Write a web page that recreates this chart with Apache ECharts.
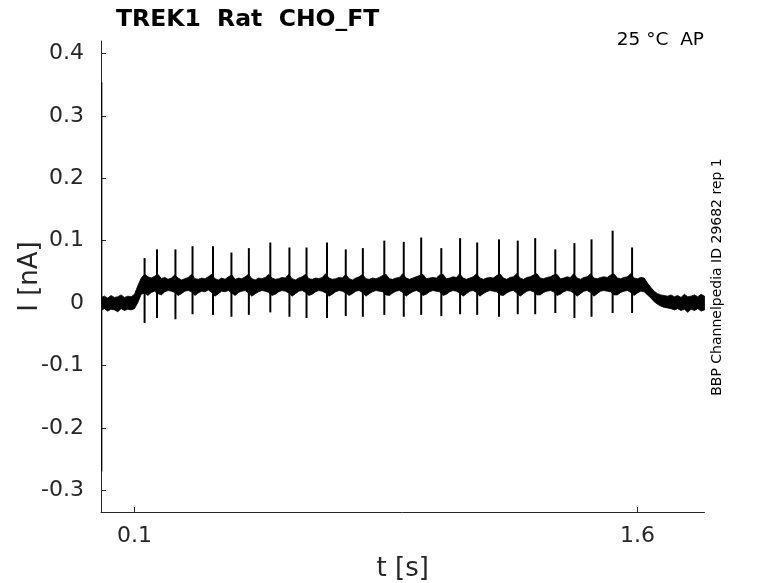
<!DOCTYPE html>
<html>
<head>
<meta charset="utf-8">
<script src="https://cdn.jsdelivr.net/npm/echarts@6/dist/echarts.min.js"></script>
<style>
html,body{margin:0;padding:0;background:#fff;}
#chart{width:778px;height:583px;}
</style>
</head>
<body>
<div id="chart"></div>
<script>
// ---- data ----
const titleText = 'TREK1  Rat  CHO_FT';
const tempText = '25 °C  AP';
const sideText = 'BBP Channelpedia ID 29682 rep 1';

const xTicks = [0.1, 1.6];
const yTicks = [-0.3, -0.2, -0.1, 0, 0.1, 0.2, 0.3, 0.4];

// noise band of the current trace, sampled every 0.01 s from t = 0 s
const envStart = 0;
const envStep = 0.01;
const bandUpper = [
  0.009,0.011,0.008,0.012,0.009,0.010,0.013,0.009,0.011,0.010,
  0.014,0.028,0.040,0.046,0.042,0.040,0.043,0.046,0.039,0.041,
  0.038,0.040,0.045,0.040,0.037,0.039,0.041,0.046,0.039,0.038,
  0.040,0.039,0.042,0.046,0.039,0.037,0.040,0.038,0.042,0.045,
  0.038,0.040,0.039,0.042,0.046,0.039,0.037,0.040,0.039,0.041,
  0.046,0.040,0.038,0.039,0.041,0.040,0.046,0.039,0.037,0.040,
  0.042,0.046,0.039,0.038,0.040,0.039,0.041,0.047,0.040,0.038,
  0.039,0.041,0.040,0.046,0.039,0.037,0.040,0.042,0.046,0.039,
  0.038,0.040,0.039,0.041,0.044,0.046,0.039,0.038,0.040,0.041,
  0.047,0.040,0.038,0.040,0.042,0.044,0.046,0.039,0.040,0.041,
  0.040,0.045,0.046,0.039,0.040,0.042,0.041,0.047,0.040,0.038,
  0.040,0.042,0.047,0.040,0.038,0.040,0.041,0.040,0.044,0.047,
  0.040,0.038,0.041,0.042,0.047,0.040,0.038,0.041,0.042,0.045,
  0.047,0.040,0.039,0.041,0.042,0.045,0.046,0.039,0.040,0.042,
  0.041,0.047,0.040,0.038,0.041,0.042,0.047,0.040,0.039,0.041,
  0.042,0.041,0.045,0.047,0.040,0.039,0.041,0.042,0.047,0.040,
  0.039,0.041,0.040,0.032,0.025,0.019,0.015,0.013,0.012,0.011,
  0.013,0.010,0.012,0.009,0.014,0.010,0.011,0.013,0.010,0.014,
  0.011
];
const bandLower = [
  -0.012,-0.009,-0.013,-0.010,-0.011,-0.014,-0.009,-0.012,-0.010,-0.011,
  -0.009,0.001,0.014,0.016,0.012,0.017,0.019,0.015,0.013,0.018,
  0.020,0.019,0.017,0.012,0.015,0.019,0.020,0.018,0.012,0.016,
  0.019,0.018,0.021,0.017,0.011,0.015,0.019,0.018,0.020,0.016,
  0.012,0.017,0.019,0.020,0.016,0.011,0.015,0.018,0.020,0.019,
  0.017,0.012,0.014,0.018,0.020,0.019,0.016,0.011,0.015,0.019,
  0.020,0.017,0.012,0.014,0.018,0.020,0.019,0.016,0.011,0.014,
  0.018,0.020,0.019,0.016,0.012,0.015,0.019,0.020,0.017,0.011,
  0.015,0.018,0.020,0.019,0.018,0.013,0.012,0.016,0.019,0.020,
  0.017,0.011,0.015,0.018,0.020,0.018,0.012,0.014,0.018,0.020,
  0.019,0.018,0.012,0.014,0.018,0.020,0.019,0.016,0.011,0.015,
  0.019,0.020,0.017,0.011,0.015,0.018,0.020,0.019,0.018,0.013,
  0.012,0.016,0.019,0.020,0.016,0.011,0.015,0.019,0.020,0.018,
  0.013,0.013,0.017,0.019,0.020,0.018,0.012,0.014,0.018,0.020,
  0.019,0.016,0.011,0.015,0.019,0.020,0.017,0.011,0.015,0.019,
  0.020,0.019,0.018,0.013,0.013,0.017,0.019,0.020,0.017,0.012,
  0.016,0.019,0.018,0.013,0.008,0.002,-0.002,-0.005,-0.007,-0.008,
  -0.009,-0.011,-0.009,-0.012,-0.010,-0.015,-0.010,-0.012,-0.009,-0.013,
  -0.011
];

// fast transients (first one is the capacitive artefact at t ~ 0)
const spikeTimes = [0.001,
  0.130,0.167,0.222,0.273,0.334,0.389,0.441,0.505,0.562,0.613,
  0.674,0.730,0.781,0.845,0.903,0.955,1.015,1.071,1.122,1.187,
  1.243,1.295,1.355,1.412,1.463,1.526,1.584];
const spikePeaks = [0.354,
  0.072,0.086,0.086,0.091,0.091,0.081,0.088,0.097,0.089,0.089,
  0.097,0.086,0.088,0.100,0.098,0.105,0.088,0.104,0.097,0.102,
  0.100,0.104,0.086,0.096,0.102,0.116,0.089];
const spikeTroughs = [-0.270,
  -0.032,-0.024,-0.026,-0.018,-0.019,-0.022,-0.019,-0.015,-0.022,-0.024,
  -0.024,-0.021,-0.022,-0.019,-0.022,-0.019,-0.021,-0.018,-0.019,-0.022,
  -0.018,-0.018,-0.016,-0.024,-0.022,-0.016,-0.016];

// ---- chart ----
const envTimes = bandUpper.map((_, i) => +(envStart + i * envStep).toFixed(3));
const spikeData = spikeTimes.map((t, i) => [t, spikePeaks[i], spikeTroughs[i]]);

const FONT = 'DejaVu Sans';
const TXT = '#262626';

const chart = echarts.init(document.getElementById('chart'), null, {renderer: 'canvas'});
chart.setOption({
  animation: false,
  backgroundColor: '#fff',
  title: {
    text: titleText,
    left: 111, top: 3,
    textStyle: {fontFamily: FONT, fontSize: 23.5, fontWeight: 'bold', color: '#000'}
  },
  graphic: [
    {type: 'text', right: 74, top: 31,
      style: {text: tempText, font: '18.5px "DejaVu Sans"', fill: '#000'}},
    {type: 'text', x: 717, y: 277, rotation: Math.PI / 2,
      style: {text: sideText, font: '14px "DejaVu Sans"', fill: '#000',
        align: 'center', verticalAlign: 'middle'}}
  ],
  grid: {left: 101, right: 73.5, top: 41, bottom: 71, containLabel: false, outerBoundsMode: 'none'},
  xAxis: {
    type: 'value', min: 0, max: 1.8,
    name: 't [s]', nameLocation: 'middle', nameGap: 44,
    nameTextStyle: {fontFamily: FONT, fontSize: 26, color: TXT},
    axisLine: {show: true, onZero: false, lineStyle: {color: TXT, width: 1}},
    axisTick: {show: true, inside: true, length: 5, customValues: xTicks, lineStyle: {color: TXT}},
    axisLabel: {customValues: xTicks, margin: 13, fontFamily: FONT, fontSize: 22, color: TXT,
      formatter: v => String(v)},
    splitLine: {show: false}
  },
  yAxis: {
    type: 'value', min: -0.335, max: 0.42,
    name: 'I [nA]', nameLocation: 'middle', nameGap: 58, nameRotate: 90, nameMoveOverlap: false,
    nameTextStyle: {fontFamily: FONT, fontSize: 26, color: TXT},
    axisLine: {show: true, onZero: false, lineStyle: {color: TXT, width: 1}},
    axisTick: {show: true, inside: true, length: 5, customValues: yTicks, lineStyle: {color: TXT}},
    axisLabel: {customValues: yTicks, margin: 17, fontFamily: FONT, fontSize: 22, color: TXT,
      formatter: v => String(v)},
    splitLine: {show: false}
  },
  series: [
    {
      type: 'custom', name: 'band', silent: true, clip: true,
      data: [[0.9, 0.03]],
      renderItem: (params, api) => {
        const pts = [];
        for (let i = 0; i < envTimes.length; i++) pts.push(api.coord([envTimes[i], bandUpper[i]]));
        for (let i = envTimes.length - 1; i >= 0; i--) pts.push(api.coord([envTimes[i], bandLower[i]]));
        return {type: 'polygon', shape: {points: pts},
          style: {fill: '#000', stroke: '#000', lineWidth: 0.8}};
      }
    },
    {
      type: 'custom', name: 'spikes', silent: true, clip: true,
      encode: {x: 0, y: [1, 2]},
      data: spikeData,
      renderItem: (params, api) => {
        const t = api.value(0);
        const a = api.coord([t, api.value(1)]);
        const b = api.coord([t, api.value(2)]);
        return {type: 'line', shape: {x1: a[0], y1: a[1], x2: b[0], y2: b[1]},
          style: {stroke: '#000', lineWidth: 2}};
      }
    }
  ]
});
</script>
</body>
</html>
